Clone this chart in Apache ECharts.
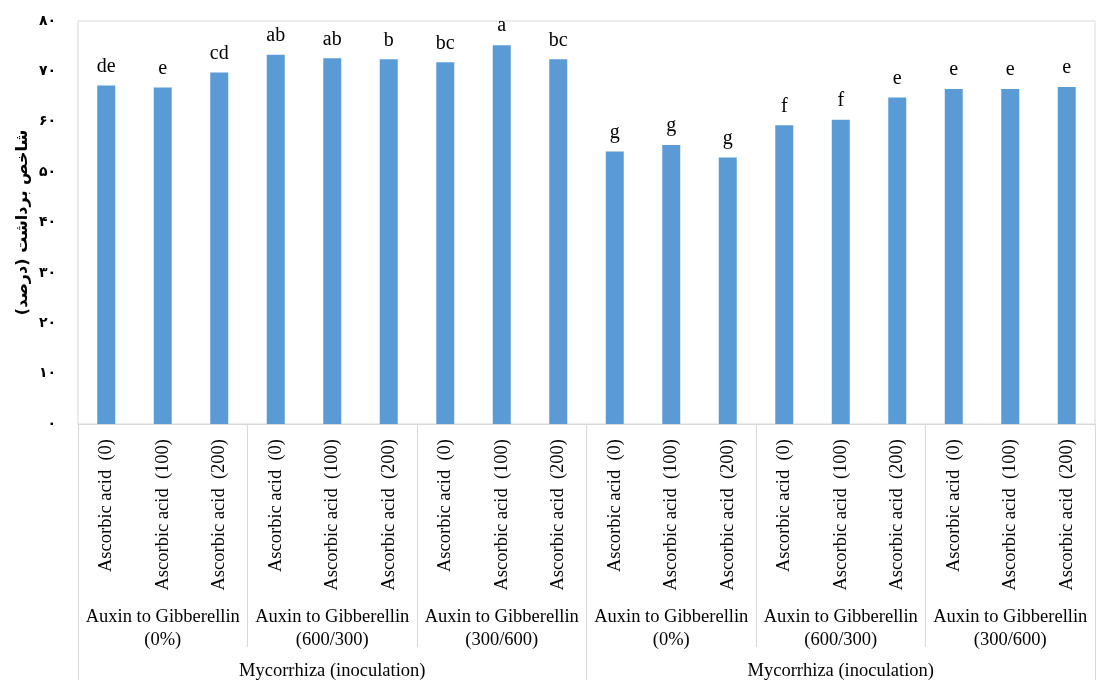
<!DOCTYPE html>
<html>
<head>
<meta charset="utf-8">
<script src="https://cdn.jsdelivr.net/npm/echarts@6/dist/echarts.min.js"></script>
<style>html,body{margin:0;padding:0;background:#fff}#c{width:1097px;height:681px}</style>
</head>
<body>
<div id="c"></div>
<script>
var barLabels = [
  'Ascorbic acid  (0)','Ascorbic acid  (100)','Ascorbic acid  (200)',
  'Ascorbic acid  (0)','Ascorbic acid  (100)','Ascorbic acid  (200)',
  'Ascorbic acid  (0)','Ascorbic acid  (100)','Ascorbic acid  (200)',
  'Ascorbic acid  (0)','Ascorbic acid  (100)','Ascorbic acid  (200)',
  'Ascorbic acid  (0)','Ascorbic acid  (100)','Ascorbic acid  (200)',
  'Ascorbic acid  (0)','Ascorbic acid  (100)','Ascorbic acid  (200)'
];
var groupLabels = [
  'Auxin to Gibberellin\n(0%)','Auxin to Gibberellin\n(600/300)','Auxin to Gibberellin\n(300/600)',
  'Auxin to Gibberellin\n(0%)','Auxin to Gibberellin\n(600/300)','Auxin to Gibberellin\n(300/600)'
];
var topLabels = ['Mycorrhiza (inoculation)','Mycorrhiza (inoculation)'];
var values = [67.2, 66.8, 69.8, 73.3, 72.6, 72.4, 71.8, 75.2, 72.4,
              54.1, 55.4, 52.9, 59.3, 60.4, 64.8, 66.5, 66.5, 66.9];
var letters = ['de','e','cd','ab','ab','b','bc','a','bc',
               'g','g','g','f','f','e','e','e','e'];
var yTickLabels = ['۰','۱۰','۲۰','۳۰','۴۰','۵۰','۶۰','۷۰','۸۰'];
var yName = 'شاخص برداشت (درصد)';

var chart = echarts.init(document.getElementById('c'), null, {renderer:'canvas'});
var serif = '"Liberation Serif", "Times New Roman", serif';
chart.setOption({
  animation: false,
  backgroundColor: '#fff',
  grid: {left: 78, right: 2, top: 21, bottom: 256, show: true, borderColor: '#d9d9d9', borderWidth: 1},
  xAxis: [
    {
      type: 'category', data: barLabels, position: 'bottom',
      axisLine: {show: true, lineStyle: {color: '#d9d9d9', width: 1}},
      axisTick: {show: false},
      axisLabel: {interval: 0, rotate: 90, margin: 15, fontSize: 18.5, fontFamily: serif, color: '#000'}
    },
    {
      type: 'category', data: groupLabels, position: 'bottom', gridIndex: 0,
      axisLine: {show: false},
      axisTick: {show: true, length: 223, lineStyle: {color: '#d9d9d9', width: 1}},
      axisLabel: {interval: 0, margin: 182, fontSize: 18.5, lineHeight: 23, fontFamily: serif, color: '#000'}
    },
    {
      type: 'category', data: topLabels, position: 'bottom', gridIndex: 0,
      axisLine: {show: false},
      axisTick: {show: true, length: 256, lineStyle: {color: '#d9d9d9', width: 1}},
      axisLabel: {interval: 0, margin: 238, fontSize: 18.5, fontFamily: serif, color: '#000'}
    }
  ],
  yAxis: {
    type: 'value', min: 0, max: 80, interval: 10,
    name: yName, nameLocation: 'middle', nameRotate: 90, nameGap: 47, nameMoveOverlap: false,
    nameTextStyle: {fontSize: 16, fontWeight: 'bold', fontFamily: '"DejaVu Sans", sans-serif', color: '#000'},
    axisLine: {show: false}, axisTick: {show: false}, splitLine: {show: false},
    axisLabel: {
      margin: 22, fontSize: 14, fontWeight: 'bold', fontFamily: '"DejaVu Sans", sans-serif', color: '#000',
      formatter: function (v) { return yTickLabels[Math.round(v / 10)]; }
    }
  },
  series: [{
    type: 'bar', xAxisIndex: 0, data: values, barWidth: 18,
    itemStyle: {color: '#5B9BD5'},
    label: {
      show: true, position: 'top', distance: 9, fontSize: 20, fontFamily: serif, color: '#000',
      formatter: function (p) { return letters[p.dataIndex]; }
    }
  }]
});
</script>
</body>
</html>
